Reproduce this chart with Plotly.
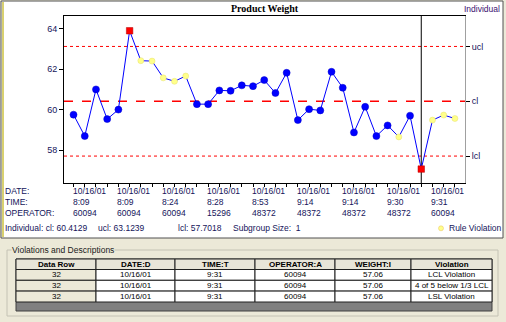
import plotly.graph_objects as go

W, H = 506, 322

# ---------------- data ----------------
weights = [59.75, 58.69, 61.00, 59.53, 60.00, 63.90, 62.42, 62.40, 61.57, 61.40,
           61.66, 60.27, 60.27, 60.95, 60.93, 61.20, 61.16, 61.46, 60.82, 61.82,
           59.48, 60.02, 59.96, 61.87, 61.08, 58.87, 60.14, 58.69, 59.22, 58.65,
           59.70, 57.06, 59.48, 59.73, 59.56]
status = ["ok", "ok", "ok", "ok", "ok", "fail", "rule", "rule", "rule", "rule",
          "rule", "ok", "ok", "ok", "ok", "ok", "ok", "ok", "ok", "ok",
          "ok", "ok", "ok", "ok", "ok", "ok", "ok", "ok", "ok", "rule",
          "ok", "fail", "rule", "rule", "rule"]
cl, ucl, lcl = 60.4129, 63.1239, 57.7018
subgroup_size = 1
current_row = 31

label_idx = [0, 4, 8, 12, 16, 20, 24, 28, 32]
label_dates = ["10/16/01"] * 9
label_times = ["8:09", "8:09", "8:24", "8:28", "8:53", "9:14", "9:14", "9:30", "9:31"]
label_ops = ["60094", "60094", "60094", "15296", "48372", "48372", "48372", "48372", "60094"]

y_ticks = [58, 60, 62, 64]

tbl_headers = ["Data Row", "DATE:D", "TIME:T", "OPERATOR:A", "WEIGHT:I", "Violation"]
tbl_row = ["32", "32", "32"]
tbl_date = ["10/16/01", "10/16/01", "10/16/01"]
tbl_time = ["9:31", "9:31", "9:31"]
tbl_op = ["60094", "60094", "60094"]
tbl_weight = ["57.06", "57.06", "57.06"]
tbl_viol = ["LCL Violation", "4 of 5 below 1/3 LCL", "LSL Violation"]

# ---------------- helpers ----------------
def px(x):
    return x / W

def py(y):
    return 1 - y / H

FONT = "Liberation Sans, Arial, sans-serif"
TXT = "#14145a"

xs = list(range(len(weights)))

fig = go.Figure()

# connecting line
fig.add_trace(go.Scatter(x=xs, y=weights, mode="lines",
                         line=dict(color="#0000ff", width=1), hoverinfo="skip",
                         showlegend=False))

styles = {
    "ok": dict(symbol="circle", size=7, color="#0000ff", line=dict(color="#0000cc", width=0.5)),
    "rule": dict(symbol="circle", size=6, color="#ffff8a", line=dict(color="#e6e070", width=0.5)),
    "fail": dict(symbol="square", size=6.5, color="#ff0000", line=dict(color="#b00000", width=0.5)),
}
for st, mk in styles.items():
    sx = [i for i in xs if status[i] == st]
    sy = [weights[i] for i in xs if status[i] == st]
    fig.add_trace(go.Scatter(x=sx, y=sy, mode="markers", marker=mk,
                             showlegend=False, hoverinfo="skip"))

# invisible trace for right axis
fig.add_trace(go.Scatter(x=[xs[0]], y=[cl], yaxis="y2", mode="markers",
                         marker=dict(opacity=0), showlegend=False, hoverinfo="skip"))

yr = [56.37, 64.63]
xr = [-0.85, 34.9]

shapes = []
# chart panel
shapes.append(dict(type="rect", xref="paper", yref="paper", layer="below",
                   x0=px(1), x1=px(503), y0=py(238), y1=py(1),
                   fillcolor="white", line=dict(color="#505050", width=1)))
shapes.append(dict(type="line", xref="paper", yref="paper", layer="below",
                   x0=px(3), x1=px(3), y0=py(237), y1=py(2),
                   line=dict(color="#d8d070", width=2)))
# control lines
for val, dash, wdt in [(ucl, "dot", 1), (cl, "dash", 1.3), (lcl, "dot", 1)]:
    shapes.append(dict(type="line", xref="x domain", yref="y", x0=0, x1=1, layer="below",
                       y0=val, y1=val, line=dict(color="#ff0000", width=wdt, dash=dash)))
# current row marker
shapes.append(dict(type="line", xref="x", yref="y domain", x0=current_row, x1=current_row,
                   y0=0, y1=1, layer="below", line=dict(color="black", width=1)))
# group box
shapes.append(dict(type="rect", xref="paper", yref="paper", layer="below",
                   x0=px(7), x1=px(498), y0=py(316), y1=py(250),
                   line=dict(color="#c4c2b4", width=1)))

# ---------------- table drawn with shapes ----------------
col_edges = [16, 96, 175, 255, 335, 411, 492]
row_edges = [259, 269.5, 280.3, 291.1, 302]
tbl_cols = [tbl_row, tbl_date, tbl_time, tbl_op, tbl_weight, tbl_viol]
shapes.append(dict(type="rect", xref="paper", yref="paper",
                   x0=px(16), x1=px(492), y0=py(311), y1=py(259),
                   fillcolor="#808080", line=dict(color="#404040", width=1)))
for c in range(6):
    for r in range(4):
        if r == 0:
            fill = "#e8e5d8"
        elif c == 0:
            fill = "#ece9d8"
        else:
            fill = "white"
        shapes.append(dict(type="rect", xref="paper", yref="paper",
                           x0=px(col_edges[c]), x1=px(col_edges[c + 1]),
                           y0=py(row_edges[r + 1]), y1=py(row_edges[r]),
                           fillcolor=fill, line=dict(color="#202020", width=1)))

# legend dot for rule violation
dot_x, dot_y = 441, 228.3
shapes.append(dict(type="circle", xref="paper", yref="paper",
                   x0=px(dot_x - 2.5), x1=px(dot_x + 2.5), y0=py(dot_y + 2.5), y1=py(dot_y - 2.5),
                   fillcolor="#ffff8a", line=dict(color="#e8c060", width=0.5)))

ann = []
def add_text(text, x, y, xanchor="left", size=8.5, color=TXT, family=FONT, xref="paper", **kw):
    ann.append(dict(text=text, x=x, y=y, xref=xref, yref="paper", xanchor=xanchor,
                    yanchor="middle", showarrow=False,
                    font=dict(family=family, size=size, color=color), **kw))

for c in range(6):
    xc = px((col_edges[c] + col_edges[c + 1]) / 2)
    add_text(f"<b>{tbl_headers[c]}</b>", xc, py((row_edges[0] + row_edges[1]) / 2),
             xanchor="center", size=8, color="black")
    for r in range(3):
        add_text(tbl_cols[c][r], xc, py((row_edges[r + 1] + row_edges[r + 2]) / 2),
                 xanchor="center", size=8, color="black")

add_text("<b>Product Weight</b>", px(265), py(8), xanchor="center", size=10, color="black",
         family="Liberation Serif, Times New Roman, serif")
add_text("Individual", px(502), py(9), xanchor="right", size=8.5, color="#3a1070")

for name, yy in [("DATE:", 190.7), ("TIME:", 201.7), ("OPERATOR:", 212.7)]:
    add_text(name, px(3), py(yy))
for i, d, t, o in zip(label_idx, label_dates, label_times, label_ops):
    for txt, yy in [(d, 190.7), (t, 201.7), (o, 212.7)]:
        add_text(txt, i, py(yy), xref="x", xshift=-3)

for txt, xx in [(f"Individual: cl: {cl:.4f}", 3), (f"ucl: {ucl:.4f}", 95.5),
                (f"lcl: {lcl:.4f}", 175.5), (f"Subgroup Size:  {subgroup_size}", 231),
                ("Rule Violation", 447)]:
    add_text(txt, px(xx), py(dot_y))

add_text("Violations and Descriptions", px(11), py(250), color="#202020",
         bgcolor="#ece9d8", borderpad=0)

fig.update_layout(
    width=W, height=H, autosize=False,
    margin=dict(l=0, r=0, t=0, b=0),
    paper_bgcolor="#ece9d8", plot_bgcolor="rgba(0,0,0,0)",
    showlegend=False,
    xaxis=dict(domain=[px(64), px(465)], range=xr, showgrid=False, zeroline=False,
               showline=True, linecolor="black", linewidth=1, mirror=True,
               tickvals=xs, ticktext=[""] * len(xs), ticks="outside", ticklen=3,
               tickcolor="black", tickwidth=1),
    yaxis=dict(domain=[py(183), py(16)], range=yr, showgrid=False, zeroline=False,
               showline=True, linecolor="black", linewidth=1,
               tickvals=y_ticks, ticks="outside", ticklen=4, tickcolor="black",
               tickfont=dict(family=FONT, size=9, color=TXT)),
    yaxis2=dict(overlaying="y", side="right", range=yr, showgrid=False, zeroline=False,
                showline=True, linecolor="#a0a0a0", linewidth=1,
                tickvals=[ucl, cl, lcl], ticktext=["ucl", "cl", "lcl"],
                ticks="outside", ticklen=4, tickcolor="black",
                tickfont=dict(family=FONT, size=9, color=TXT)),
    shapes=shapes, annotations=ann,
)

fig.write_html("out.html")
